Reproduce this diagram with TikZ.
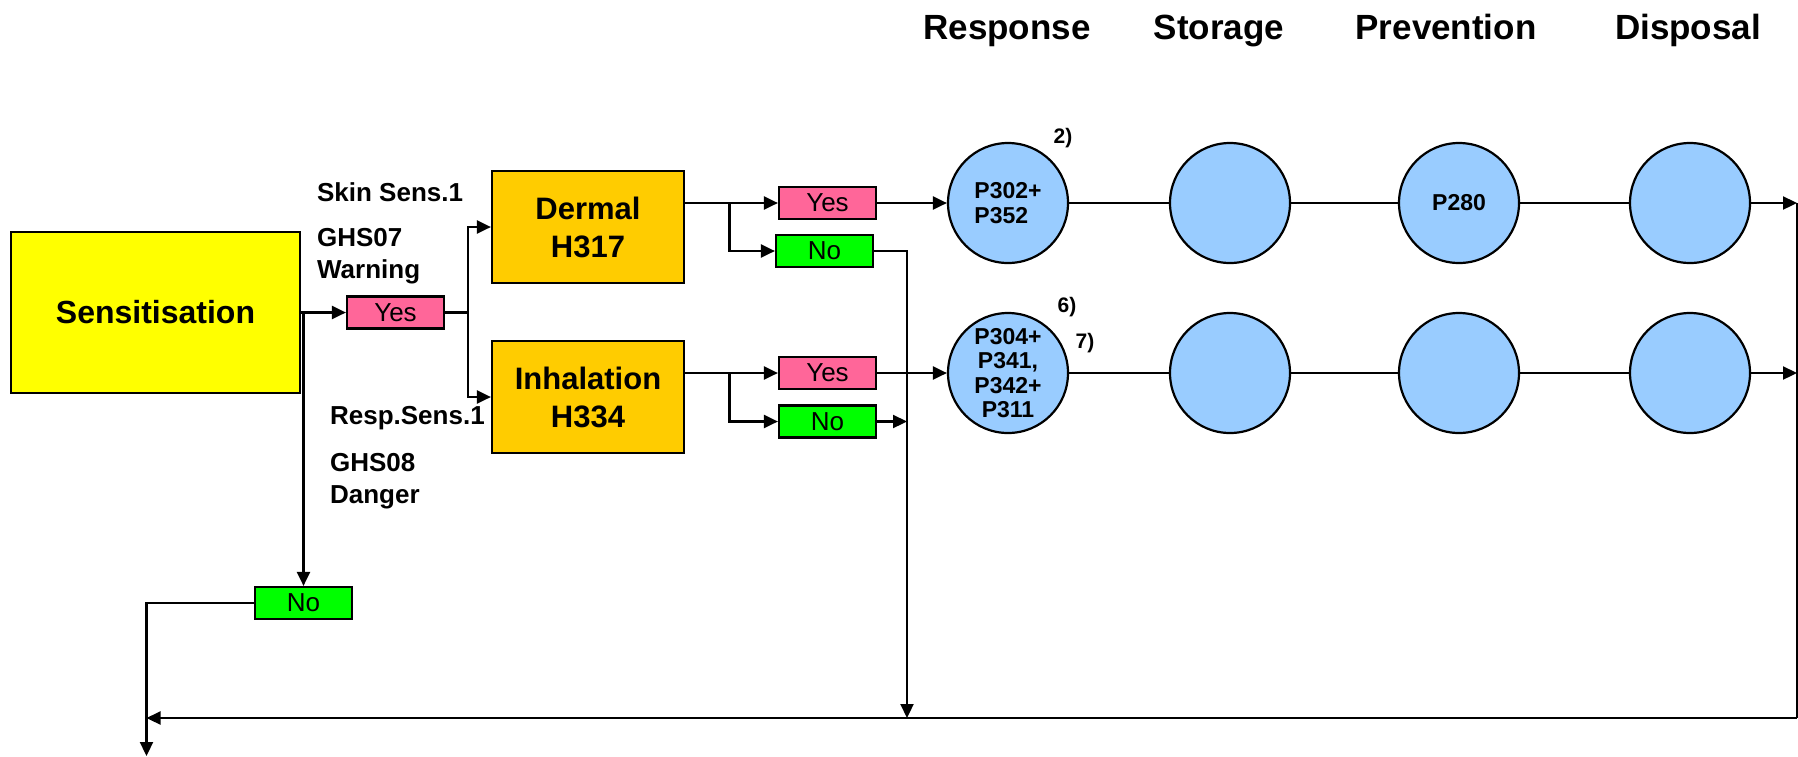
\documentclass[tikz,border=0pt]{standalone}
\usepackage{fontspec}
\setmainfont{Liberation Sans}
\usetikzlibrary{arrows.meta}
\definecolor{sensyel}{HTML}{FFFF00}
\definecolor{hazorange}{HTML}{FFCC00}
\definecolor{yespink}{HTML}{FF6699}
\definecolor{nogreen}{HTML}{00FF00}
\definecolor{pblue}{HTML}{99CCFF}
\begin{document}
\begin{tikzpicture}[x=1pt,y=-1pt,line width=2.2pt,
  arr/.style={-{Triangle[length=14pt,width=13pt]}},
  bx/.style={draw=black,inner sep=0pt,align=center},
  sensbox/.style={bx,fill=sensyel,minimum width=289pt,minimum height=161pt,font=\fontsize{32}{38}\selectfont\bfseries},
  hazbox/.style={bx,fill=hazorange,minimum width=192pt,minimum height=112pt,font=\fontsize{31}{38}\selectfont\bfseries},
  yesbox/.style={bx,fill=yespink,minimum width=97pt,minimum height=32pt,font=\fontsize{26}{30}\selectfont},
  nobox/.style={bx,fill=nogreen,minimum width=97pt,minimum height=32pt,font=\fontsize{26}{30}\selectfont},
  pcirc/.style={circle,draw=black,fill=pblue,minimum size=120pt,inner sep=0pt,font=\fontsize{23}{25}\selectfont\bfseries},
  sidelbl/.style={anchor=west,inner sep=0pt,align=left,font=\fontsize{26}{32}\selectfont\bfseries},
  hdr/.style={inner sep=0pt,anchor=base,font=\fontsize{35}{40}\selectfont\bfseries},
  note/.style={inner sep=0pt,font=\fontsize{21}{24}\selectfont\bfseries}]
\useasboundingbox (0,0) rectangle (1798,756);

% headers
\node[hdr] (hresp) at (1007,39) {Response};
\node[hdr] (hstor) at (1219,39) {Storage};
\node[hdr] (hprev) at (1446,39) {Prevention};
\node[hdr] (hdisp) at (1688,39) {Disposal};

% main boxes
\node[sensbox] (sens) at (155.5,312.5) {Sensitisation};
\node[yesbox] (yes0) at (395.5,312.5) {Yes};
\node[nobox] (no0) at (303.5,603) {No};
\node[hazbox] (dermal) at (588,227) {Dermal\\H317};
\node[hazbox] (inhal) at (588,397) {Inhalation\\H334};
\node[yesbox] (yes1) at (827.5,203) {Yes};
\node[nobox] (no1) at (824.5,251) {No};
\node[yesbox] (yes2) at (827.5,373) {Yes};
\node[nobox] (no2) at (827.5,421.5) {No};

% side labels
\node[sidelbl] (skin) at (316,192) {Skin Sens.1};
\node[sidelbl] (ghs7) at (316,256) {GHS07\\Warning};
\node[sidelbl] (resp) at (329,418) {Resp.Sens.1};
\node[sidelbl] (ghs8) at (329,481) {GHS08\\Danger};

% circles
\node[pcirc,align=left] (c11) at (1008,203) {P302+\\P352};
\node[pcirc] (c12) at (1230,203) {};
\node[pcirc] (c13) at (1459,203) {P280};
\node[pcirc] (c14) at (1690,203) {};
\node[pcirc,align=center,font=\fontsize{23}{24.3}\selectfont\bfseries] (c21) at (1008,373) {P304+\\P341,\\P342+\\P311};
\node[pcirc] (c22) at (1230,373) {};
\node[pcirc] (c23) at (1459,373) {};
\node[pcirc] (c24) at (1690,373) {};

\node[note] (n2) at (1063,138) {2)};
\node[note] (n6) at (1067,307) {6)};
\node[note] (n7) at (1085,343) {7)};

% coordinates
\coordinate (b0) at (468,312.5);
\coordinate (b1) at (729.5,203);
\coordinate (b2) at (729.5,373);
\coordinate (bl) at (907,718);
\coordinate (rt) at (1797,203);
\coordinate (rb) at (1797,718);
\coordinate (lb) at (146.5,718);
\coordinate (lend) at (146.5,756);

% connectors
\draw[arr] (sens) -- (yes0);
\draw[arr] (no0.north |- sens.east) -- (no0.north);
\draw (yes0) -- (b0);
\draw[arr] (b0) |- (dermal.west);
\draw[arr] (b0) |- (inhal.west);

\draw[arr] (dermal.east |- yes1) -- (yes1.west);
\draw[arr] (b1) |- (no1.west);
\draw[arr] (inhal.east |- yes2) -- (yes2.west);
\draw[arr] (b2) |- (no2.west);

\draw[arr] (yes1) -- (c11);
\draw[arr] (yes2) -- (c21);
\draw[arr] (no1.east) -| (bl);
\draw[arr] (no2.east) -- (no2.east -| bl);

\draw (c11) -- (c12);
\draw (c12) -- (c13);
\draw (c13) -- (c14);
\draw (c21) -- (c22);
\draw (c22) -- (c23);
\draw (c23) -- (c24);
\draw[arr] (c14) -- (rt);
\draw[arr] (c24) -- (c24 -| rt);

\draw (rt) -- (rb);
\draw[arr] (rb) -- (lb);
\draw[arr] (no0.west) -| (lend);
\end{tikzpicture}
\end{document}
